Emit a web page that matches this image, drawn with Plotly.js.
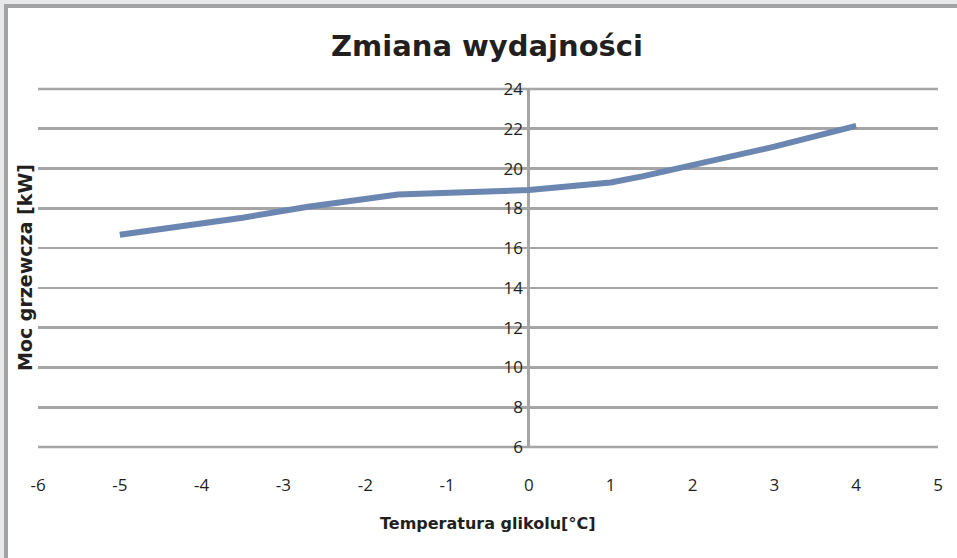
<!DOCTYPE html>
<html>
<head>
<meta charset="utf-8">
<script src="https://cdn.plot.ly/plotly-3.0.1.min.js"></script>
<style>html,body{margin:0;padding:0;background:#fff;}#chart{width:957px;height:558px;}</style>
</head>
<body>
<div id="chart"></div>
<script>
// Data
const temperature = [-5, -3.5, -2.7, -1.6, 0, 0.4, 1, 1.4, 2, 3, 4];
const power = [16.67, 17.53, 18.08, 18.69, 18.92, 19.06, 19.3, 19.62, 20.15, 21.1, 22.15];
const xTicks = [-6, -5, -4, -3, -2, -1, 0, 1, 2, 3, 4, 5];
const yTicks = [6, 8, 10, 12, 14, 16, 18, 20, 22, 24];

const W = 957, H = 558;
const L = 38, R = 19, T = 89, B = 111;
const pw = W - L - R, ph = H - T - B;
const px = v => (v - L) / pw;          // pixel x -> paper x
const py = v => (H - B - v) / ph;       // pixel y -> paper y

const trace = {
  x: temperature, y: power, type: 'scatter', mode: 'lines',
  line: {color: '#6b86b0', width: 6, shape: 'linear'},
  hoverinfo: 'skip'
};

const gridCol = '#a5a5a5';
const gridW = 2.6;
const yMin = yTicks[0], yMax = yTicks[yTicks.length - 1];
// bottom and top grid lines (range ends), drawn in paper coords so they are not clipped
const edgeGrid = [0, 1].map(v => ({
  type: 'line', xref: 'paper', yref: 'paper', x0: 0, x1: 1, y0: v, y1: v,
  line: {color: gridCol, width: gridW}, layer: 'below'
}));

const layout = {
  width: W, height: H,
  margin: {l: L, r: R, t: T, b: B, pad: 0},
  paper_bgcolor: '#ffffff', plot_bgcolor: '#ffffff',
  showlegend: false,
  title: {
    text: 'Zmiana wydajności',
    font: {family: 'DejaVu Sans, sans-serif', size: 29, color: '#231f20', weight: 'bold'},
    xref: 'paper', x: px(487), xanchor: 'center',
    yref: 'container', y: 1 - 46 / H, yanchor: 'middle'
  },
  xaxis: {
    range: [-6, 5], tickvals: xTicks, ticktext: xTicks.map(String),
    showgrid: false, zeroline: true, zerolinecolor: gridCol, zerolinewidth: 3,
    showline: false, ticks: '', ticklabelstandoff: 26,
    tickfont: {family: 'Open Sans, sans-serif', size: 17, color: '#231f20'},
    fixedrange: true
  },
  yaxis: {
    range: [yMin, yMax], tickvals: yTicks, ticktext: yTicks.map(String),
    anchor: 'free', position: 6 / 11,
    showgrid: true, gridcolor: gridCol, gridwidth: gridW,
    zeroline: false, showline: false, ticks: '', ticklabelstandoff: 6,
    tickfont: {family: 'Open Sans, sans-serif', size: 17, color: '#231f20'},
    fixedrange: true
  },
  annotations: [
    {text: 'Moc grzewcza [kW]', textangle: -90, xref: 'paper', yref: 'paper',
     x: px(25), y: py(268), xanchor: 'center', yanchor: 'middle', showarrow: false,
     font: {family: 'DejaVu Sans, sans-serif', size: 19, color: '#231f20', weight: 'bold'}},
    {text: 'Temperatura glikolu[°C]', xref: 'paper', yref: 'paper',
     x: px(487), y: py(523), xanchor: 'center', yanchor: 'middle', showarrow: false,
     font: {family: 'DejaVu Sans, sans-serif', size: 16, color: '#231f20', weight: 'bold'}}
  ],
  shapes: [
    {type: 'rect', xref: 'paper', yref: 'paper', x0: px(0), x1: px(W), y0: py(0), y1: py(4),
     fillcolor: '#e7e8ea', line: {width: 0}, layer: 'below'},
    {type: 'rect', xref: 'paper', yref: 'paper', x0: px(0), x1: px(4), y0: py(0), y1: py(H),
     fillcolor: '#e7e8ea', line: {width: 0}, layer: 'below'},
    {type: 'rect', xref: 'paper', yref: 'paper', x0: px(4), x1: px(W), y0: py(4), y1: py(8),
     fillcolor: '#a3a3a3', line: {width: 0}, layer: 'below'},
    {type: 'rect', xref: 'paper', yref: 'paper', x0: px(4), x1: px(8), y0: py(4), y1: py(H),
     fillcolor: '#a3a3a3', line: {width: 0}, layer: 'below'}
  ].concat(edgeGrid)
};

Plotly.newPlot('chart', [trace], layout, {displayModeBar: false, staticPlot: true});
</script>
</body>
</html>
